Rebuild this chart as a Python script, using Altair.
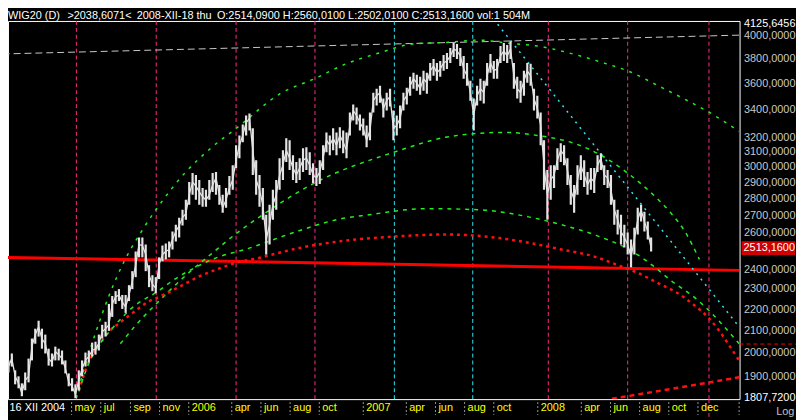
import altair as alt
import pandas as pd

W, H = 739, 382
FONT = "Liberation Sans"

# ---- weekly WIG20 bars (close / high / low), first week starting 2004-12-13 ----
week_start = "2004-12-13"
closes = [
    1924, 1941, 1975, 1900, 1871, 1831, 1883, 1900, 2027, 2080,
    2117, 2062, 2040, 1975, 1958, 2005, 1992, 1975, 1933, 1875,
    1859, 1827, 1883, 1933, 1967, 1984, 2010, 2018, 2040, 2094,
    2108, 2126, 2225, 2259, 2269, 2234, 2210, 2269, 2338, 2421,
    2533, 2528, 2479, 2369, 2323, 2303, 2426, 2479, 2495, 2506,
    2561, 2606, 2640, 2686, 2709, 2823, 2903, 2878, 2841, 2811,
    2792, 2823, 2885, 2929, 2823, 2745, 2792, 2866, 2916, 3045,
    3146, 3214, 3306, 3335, 3112, 2916, 2854, 2762, 2561, 2645,
    2762, 2823, 2948, 3012, 3112, 3058, 2993, 2948, 2993, 3045,
    3058, 3012, 2948, 2929, 2967, 3058, 3180, 3146, 3194, 3146,
    3214, 3166, 3112, 3285, 3393, 3357, 3306, 3263, 3180, 3249,
    3467, 3505, 3528, 3408, 3467, 3498, 3263, 3285, 3335, 3467,
    3505, 3582, 3637, 3605, 3559, 3637, 3605, 3700, 3740, 3684,
    3716, 3765, 3781, 3822, 3881, 3864, 3822, 3716, 3660, 3528,
    3357, 3505, 3559, 3528, 3660, 3765, 3700, 3716, 3822, 3864,
    3822, 3881, 3660, 3559, 3528, 3621, 3700, 3660, 3482, 3408,
    3285, 3012, 2823, 2916, 2948, 3045, 3112, 3078, 2980, 2854,
    2792, 2916, 3012, 2948, 2885, 2929, 2903, 3012, 3058, 2948,
    2929, 2854, 2733, 2674, 2606, 2572, 2533, 2463, 2561, 2674,
    2733, 2663, 2606, 2513,
]
highs = [
    1950, 1967, 1997, 1925, 1900, 1871, 1916, 1975, 2063, 2108,
    2145, 2108, 2081, 2018, 1997, 2027, 2018, 2010, 1967, 1912,
    1892, 1867, 1925, 1967, 2001, 2010, 2045, 2049, 2081, 2126,
    2140, 2225, 2264, 2288, 2298, 2269, 2269, 2318, 2390, 2495,
    2572, 2572, 2533, 2421, 2369, 2359, 2463, 2528, 2539, 2550,
    2606, 2645, 2686, 2733, 2793, 2904, 2961, 2948, 2916, 2866,
    2854, 2916, 2961, 2967, 2885, 2823, 2866, 2942, 3012, 3146,
    3214, 3292, 3357, 3371, 3264, 3045, 2948, 2866, 2703, 2762,
    2854, 2916, 3058, 3112, 3194, 3180, 3078, 3032, 3058, 3125,
    3132, 3098, 3025, 2993, 3045, 3146, 3235, 3214, 3264, 3235,
    3271, 3249, 3235, 3379, 3438, 3415, 3364, 3335, 3285, 3379,
    3528, 3559, 3582, 3483, 3528, 3559, 3393, 3357, 3430, 3528,
    3566, 3652, 3684, 3668, 3652, 3700, 3684, 3765, 3797, 3765,
    3781, 3830, 3847, 3889, 3931, 3923, 3889, 3822, 3765, 3621,
    3483, 3582, 3637, 3621, 3765, 3839, 3781, 3797, 3906, 3931,
    3914, 3948, 3765, 3652, 3621, 3700, 3765, 3757, 3559, 3505,
    3379, 3180, 2980, 3012, 3012, 3125, 3159, 3146, 3058, 2948,
    2885, 3012, 3078, 3045, 2967, 2993, 2993, 3078, 3092, 3012,
    2980, 2948, 2793, 2733, 2703, 2645, 2600, 2561, 2628, 2745,
    2762, 2721, 2663, 2572,
]
lows = [
    1900, 1916, 1941, 1867, 1851, 1819, 1843, 1875, 1967, 2040,
    2072, 2018, 1997, 1945, 1941, 1967, 1967, 1950, 1912, 1859,
    1839, 1811, 1843, 1900, 1941, 1958, 1984, 1992, 2010, 2063,
    2072, 2098, 2163, 2225, 2239, 2201, 2182, 2239, 2298, 2359,
    2463, 2463, 2390, 2308, 2288, 2278, 2349, 2442, 2452, 2463,
    2506, 2550, 2572, 2640, 2674, 2762, 2823, 2793, 2762, 2751,
    2751, 2793, 2841, 2823, 2762, 2715, 2745, 2823, 2854, 2993,
    3058, 3166, 3214, 3249, 2948, 2823, 2751, 2674, 2479, 2533,
    2674, 2733, 2854, 2916, 3032, 2980, 2916, 2897, 2916, 2967,
    2980, 2948, 2897, 2878, 2891, 2980, 3098, 3078, 3112, 3078,
    3125, 3092, 3058, 3214, 3321, 3292, 3249, 3214, 3132, 3180,
    3379, 3430, 3452, 3342, 3393, 3423, 3180, 3214, 3264, 3393,
    3438, 3505, 3559, 3543, 3513, 3543, 3520, 3621, 3660, 3621,
    3652, 3700, 3716, 3765, 3814, 3797, 3740, 3637, 3582, 3467,
    3249, 3430, 3467, 3445, 3582, 3684, 3637, 3637, 3765, 3781,
    3765, 3797, 3559, 3483, 3452, 3505, 3605, 3582, 3393, 3335,
    3146, 2854, 2674, 2793, 2866, 2980, 3032, 3012, 2885, 2762,
    2715, 2823, 2916, 2872, 2823, 2854, 2835, 2967, 2980, 2885,
    2866, 2762, 2645, 2589, 2533, 2517, 2479, 2410, 2479, 2589,
    2663, 2606, 2561, 2495,
]

# ---- vertical time-cycle lines ----
vl_dates = ["2005-05-11", "2005-10-25", "2006-04-10", "2006-09-22", "2007-03-07",
            "2007-08-18", "2008-01-23", "2008-07-07", "2008-12-24"]
vl_kind = ["pink", "pink", "pink", "pink", "cyan", "cyan", "pink", "pink", "pink"]

# ---- green arcs ----
arc_a_dates = ["2005-05-11", "2005-05-16", "2005-06-21", "2005-07-18", "2005-08-18", "2005-09-24",
               "2005-10-29", "2005-12-24", "2006-02-16", "2006-04-13", "2006-07-11", "2006-09-21",
               "2006-11-26", "2007-02-03", "2007-04-14", "2007-07-06", "2007-08-29", "2007-10-30",
               "2007-12-31", "2008-03-23", "2008-05-24", "2008-07-07", "2008-09-13", "2008-11-05",
               "2008-12-25", "2009-02-25"]
arc_a_vals = [1811, 1851, 2094, 2264, 2437, 2606, 2751, 2961, 3125, 3271, 3520, 3637, 3757,
              3847, 3923, 3940, 3957, 3931, 3906, 3830, 3757, 3700, 3574, 3475, 3379, 3242]

arc_b_dates = ["2005-08-11", "2005-09-11", "2005-10-29", "2005-12-24", "2006-02-16", "2006-04-13",
               "2006-05-30", "2006-09-21", "2007-03-06", "2007-06-22", "2007-08-29", "2007-10-24",
               "2007-12-31", "2008-03-23", "2008-05-12", "2008-07-04", "2008-08-23", "2008-10-03",
               "2008-11-05", "2008-12-04"]
arc_b_vals = [2040, 2121, 2235, 2364, 2479, 2600, 2692, 2897, 3098, 3201, 3228, 3235, 3214,
              3152, 3078, 2967, 2841, 2721, 2600, 2452]

arc_c_dates = ["2005-05-16", "2005-06-06", "2005-06-27", "2005-07-28", "2005-09-07", "2005-10-29",
               "2005-12-03", "2006-01-20", "2006-03-02", "2006-04-29", "2006-08-15", "2006-11-06",
               "2007-01-13", "2007-05-11", "2007-08-29", "2007-12-10", "2008-02-19", "2008-04-27",
               "2008-07-20", "2008-08-30", "2008-10-10", "2008-11-20", "2008-12-25", "2009-02-07",
               "2009-02-25"]
arc_c_vals = [1839, 1954, 2032, 2117, 2211, 2288, 2349, 2416, 2463, 2506, 2606, 2674, 2703,
              2739, 2733, 2692, 2645, 2589, 2490, 2416, 2333, 2264, 2191, 2085, 2040]

# ---- red dotted arc ----
arc_d_dates = ["2005-05-16", "2005-06-06", "2005-06-27", "2005-07-18", "2005-08-07", "2005-09-03",
               "2005-10-08", "2005-11-04", "2005-12-15", "2006-01-20", "2006-03-02", "2006-04-13",
               "2006-05-24", "2006-08-15", "2006-11-26", "2007-03-10", "2007-06-22", "2007-10-03",
               "2007-12-10", "2008-02-19", "2008-04-27", "2008-06-22", "2008-07-25", "2008-09-13",
               "2008-10-16", "2008-11-20", "2008-12-25", "2009-01-16", "2009-02-06", "2009-02-25"]
arc_d_vals = [1839, 1962, 2032, 2094, 2131, 2177, 2235, 2264, 2313, 2359, 2400, 2437, 2458,
              2511, 2555, 2578, 2589, 2572, 2544, 2506, 2468, 2416, 2384, 2323, 2283, 2225,
              2154, 2094, 2027, 1967]

# ---- straight lines ----
grey_dates, grey_vals = ["2004-12-08", "2009-02-25"], [3839, 4000]
red_dates, red_vals = ["2004-12-08", "2009-02-25"], [2463, 2394]
cyan_dates, cyan_vals = ["2007-10-09", "2009-02-25"], [4096, 2117]
redlow_dates, redlow_vals = ["2008-06-04", "2008-11-20", "2009-02-25"], [1809, 1863, 1896]

# ---- axes ----
tick_dates = ["2004-12-16", "2005-05-01", "2005-07-01", "2005-09-01", "2005-11-01", "2006-01-01",
              "2006-04-01", "2006-06-01", "2006-08-01", "2006-10-01", "2007-01-01", "2007-04-01",
              "2007-06-01", "2007-08-01", "2007-10-01", "2008-01-01", "2008-04-01", "2008-06-01",
              "2008-08-01", "2008-10-01", "2008-12-01", "2009-02-25"]
tick_labels = ["16 XII 2004", "may", "jul", "sep", "nov", "2006", "apr", "jun", "aug", "oct",
               "2007", "apr", "jun", "aug", "oct", "2008", "apr", "jun", "aug", "oct", "dec", ""]
y_ticks = [1807.72, 1900, 2000, 2100, 2200, 2300, 2400, 2600, 2700, 2800, 2900, 3000,
           3100, 3200, 3400, 3600, 3800, 4000, 4125.6456]
last_close = 2513.16
last_close_label = "2513,1600"
cursor_level = 2038.6071
title_parts = ["WIG20 (D)", ">2038,6071<", "2008-XII-18 thu",
               "O:2514,0900 H:2560,0100 L:2502,0100 C:2513,1600 vol:1 504M"]
title_x = [0, 60, 130, 211]

xs = alt.Scale(domain=[alt.DateTime(year=2004, month=12, date=19),
                       alt.DateTime(year=2009, month=2, date=26)], nice=False)
ys = alt.Scale(type="log", domain=[1807.72, 4125.6456], nice=False)
yax = alt.Axis(orient="right", values=y_ticks,
               labelExpr="replace(format(datum.value, '.4f'), '.', ',')",
               grid=False, ticks=False, domain=False, title=None,
               labelFont=FONT, labelFontSize=11, labelPadding=4,
               labelFlush=True, labelFlushOffset=3, labelOverlap=False,
               labelColor={"condition": {"test": "datum.value > 4100 || datum.value < 1810",
                                         "value": "#ffffff"}, "value": "#c8c8c8"})


def X():
    return alt.X("date:T", scale=xs, axis=None)


def Y(f="v"):
    return alt.Y(f"{f}:Q", scale=ys, axis=yax)


def line(dates, vals, **mk):
    df = pd.DataFrame({"date": pd.to_datetime(dates), "v": vals})
    return alt.Chart(df).mark_line(clip=True, **mk).encode(x=X(), y=Y())


price_df = pd.DataFrame({"date": pd.date_range(week_start, periods=len(closes), freq="7D"),
                         "v": closes, "hi": highs, "lo": lows})

vdf = pd.DataFrame({"date": pd.to_datetime(vl_dates), "kind": vl_kind})
vlines = alt.Chart(vdf).mark_rule(strokeDash=[4, 3], strokeWidth=1).encode(
    x=X(), color=alt.Color("kind:N", scale=alt.Scale(domain=["pink", "cyan"],
                                                     range=["#ff2a84", "#2ee6f2"]), legend=None))
vline_ext = alt.Chart(pd.DataFrame({"date": pd.to_datetime([vl_dates[-1]])})).mark_rule(
    color="#ff2a84", strokeDash=[4, 3]).encode(x=X(), y=alt.value(H), y2=alt.value(H + 19))

layers = [
    vlines,
    vline_ext,
    line(grey_dates, grey_vals, color="#c8c8c8", strokeDash=[7, 4], strokeWidth=1),
    line(red_dates, red_vals, color="#ff0000", strokeWidth=3),
    line(arc_a_dates, arc_a_vals, color="#22ee22", strokeDash=[3, 6], strokeWidth=1.5, interpolate="monotone"),
    line(arc_b_dates, arc_b_vals, color="#22ee22", strokeDash=[4, 5], strokeWidth=1.5, interpolate="monotone"),
    line(arc_d_dates, arc_d_vals, color="#ff1010", strokeDash=[3, 4], strokeWidth=2.5, interpolate="monotone"),
    line(arc_c_dates, arc_c_vals, color="#22ee22", strokeDash=[4, 5], strokeWidth=1.5, interpolate="monotone"),
    line(cyan_dates, cyan_vals, color="#2ee6f2", strokeDash=[2, 5], strokeWidth=1.5),
    line(redlow_dates, redlow_vals, color="#ff1010", strokeDash=[5, 4], strokeWidth=2.5),
    alt.Chart(price_df).mark_rule(color="#e4e4e4", strokeWidth=2.2, clip=True).encode(
        x=X(), y=Y("lo"), y2="hi:Q"),
    alt.Chart(price_df).mark_line(color="#e4e4e4", strokeWidth=1.3, clip=True).encode(x=X(), y=Y()),
]

# right-side markers
layers.append(alt.Chart(pd.DataFrame({"v": [cursor_level]})).mark_rule(
    color="#ff0000", strokeDash=[4, 3]).encode(x=alt.value(W), x2=alt.value(W + 57), y=Y()))
layers.append(alt.Chart(pd.DataFrame({"v": [last_close]})).mark_rule(
    color="#d00000", strokeWidth=14).encode(x=alt.value(W + 2), x2=alt.value(W + 56), y=Y()))
layers.append(alt.Chart(pd.DataFrame({"v": [last_close], "t": [last_close_label]})).mark_text(
    align="left", baseline="middle", color="#ffffff", font=FONT, fontSize=11).encode(
    x=alt.value(W + 4), y=Y(), text="t:N"))

# x axis ticks and labels
tdf = pd.DataFrame({"date": pd.to_datetime(tick_dates), "lbl": tick_labels})
layers.append(alt.Chart(tdf).mark_rule(color="#9a9a9a", strokeDash=[2, 2]).encode(
    x=X(), y=alt.value(H + 3), y2=alt.value(H + 16)))
layers.append(alt.Chart(tdf).mark_text(align="left", baseline="top", dx=3, font=FONT, fontSize=11).encode(
    x=X(), y=alt.value(H + 3), text="lbl:N",
    color=alt.condition("datum.lbl == '16 XII 2004'", alt.value("#ffffff"), alt.value("#ffff00"))))

# title bar texts
for tx, t in zip(title_x, title_parts):
    layers.append(alt.Chart(pd.DataFrame({"t": [t]})).mark_text(
        align="left", baseline="middle", color="#ffffff", font=FONT, fontSize=11).encode(
        x=alt.value(tx), y=alt.value(-5), text="t:N"))
layers.append(alt.Chart(pd.DataFrame({"t": ["Log"]})).mark_text(
    align="left", baseline="middle", color="#c0c0c0", font=FONT, fontSize=11).encode(
    x=alt.value(W + 37), y=alt.value(H + 13), text="t:N"))

chart = alt.layer(*layers).properties(
    width=W, height=H, background="#000000",
    autosize=alt.AutoSizeParams(type="none"),
    padding={"left": 0, "top": 11, "right": 57, "bottom": 19},
    usermeta={"embedOptions": {"defaultStyle":
              "body{background:#000;overflow:hidden} svg{display:block}"}},
).configure_view(stroke="#ffffff", strokeWidth=1)

chart.save("out.html", embed_options={"renderer": "svg", "actions": False})
